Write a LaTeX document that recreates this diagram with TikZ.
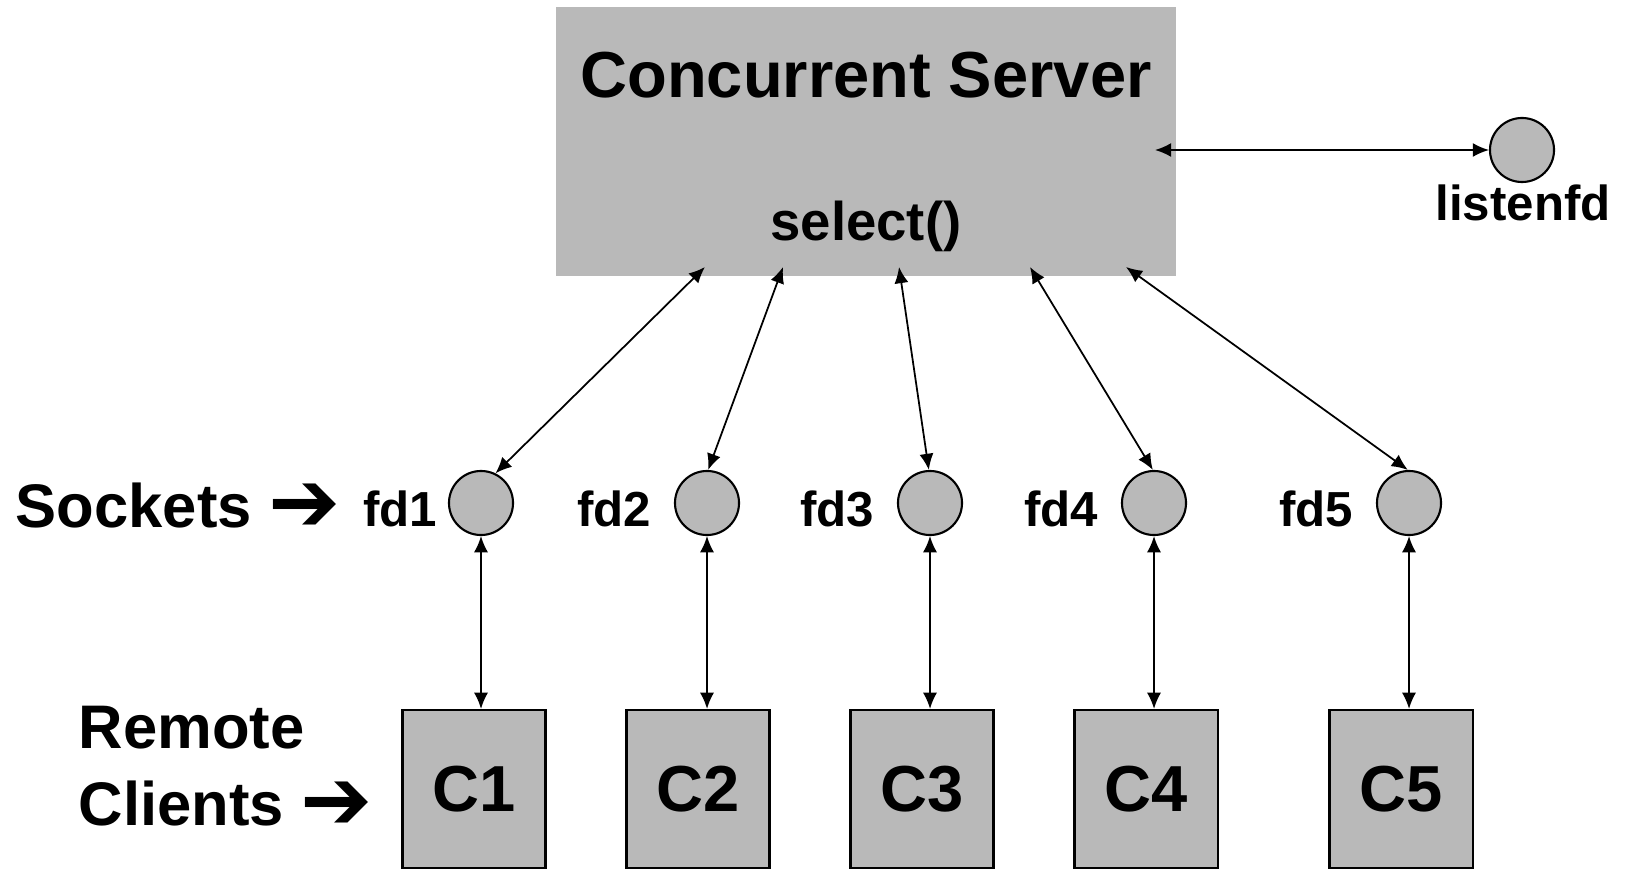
\documentclass[tikz,border=0pt]{standalone}
\usepackage{fontspec}
\setmainfont{Liberation Sans}
\newfontfamily\arrowfont{DejaVu Sans}
\usetikzlibrary{arrows.meta,positioning}
\definecolor{boxgray}{RGB}{185,185,185}
\newcommand{\bigtext}{\fontsize{18.5}{22}\selectfont\bfseries}
\newcommand{\sidetext}{\fontsize{17.5}{21}\selectfont\bfseries}
\newcommand{\midtext}{\fontsize{14}{17}\selectfont\bfseries}
\newcommand{\pointer}{\raisebox{-0.08em}{\arrowfont\fontsize{24.5}{24.5}\selectfont ➔}}
\tikzstyle{server} = [rectangle, fill=boxgray, minimum width=6.2cm, minimum height=2.69cm]
\tikzstyle{client} = [rectangle, draw=black, line width=0.6pt, fill=boxgray, minimum width=1.43cm, minimum height=1.58cm, font=\bigtext]
\tikzstyle{socket} = [circle, draw=black, line width=0.6pt, fill=boxgray, minimum size=0.64cm, inner sep=0pt]
\tikzstyle{fdtext} = [font=\midtext, inner sep=0pt, yshift=-0.06cm]
\tikzstyle{sidecap} = [font=\sidetext, inner sep=0pt, anchor=base west]
\tikzstyle{arrow} = [line width=0.5pt, <->, >={Latex[length=4.6pt,width=4pt]}]

\begin{document}
\begin{tikzpicture}[x=0.01cm, y=-0.01cm]
	\useasboundingbox (0,0) rectangle (1627,870);

	% server
	\node (server) [server] at (866,141.5) {};
	\node (title) [anchor=base, font=\bigtext] at (866,98) {Concurrent Server};
	\node (select) [anchor=base, font=\fontsize{15.5}{18}\selectfont\bfseries] at (866,241) {select()};

	% listening socket
	\node (listenfd) [socket] at (1522,150) {};
	\node (listentext) [anchor=base, font=\midtext] at (1523,221) {listenfd};
	\coordinate (s0) at (1155,150);
	\draw [arrow] (s0) -- (listenfd);

	% connected sockets
	\foreach \i/\x in {1/481, 2/707, 3/930, 4/1154, 5/1409}
		\node (fd\i) [socket] at (\x,503) {};
	\node (fd1text) [fdtext, left=0.1cm of fd1] {fd1};
	\foreach \i in {2,...,5}
		\node (fd\i text) [fdtext, left=0.22cm of fd\i] {fd\i};

	% remote clients
	\foreach \i/\x in {1/474, 2/698, 3/922, 4/1146, 5/1401}
		\node (c\i) [client] at (\x,789) {C\i};

	% server <-> sockets
	\coordinate (s1) at (705,267);
	\coordinate (s2) at (783,267);
	\coordinate (s3) at (899,267);
	\coordinate (s4) at (1030,267);
	\coordinate (s5) at (1126,267);
	\draw [arrow] (fd1.64) -- (s1);
	\draw [arrow] (fd2.88) -- (s2);
	\draw [arrow] (fd3.92) -- (s3);
	\draw [arrow] (fd4.92) -- (s4);
	\draw [arrow] (fd5.92) -- (s5);

	% sockets <-> clients
	\foreach \i in {1,...,5}
		\draw [arrow] (fd\i.south) -- (fd\i.south |- c\i.north);

	% side labels
	\node (sockets) [sidecap] at (15,527) {Sockets \pointer};
	\node (remote) [sidecap] at (78,748) {Remote};
	\node (clients) [sidecap] at (78,825) {Clients \pointer};
\end{tikzpicture}
\end{document}
